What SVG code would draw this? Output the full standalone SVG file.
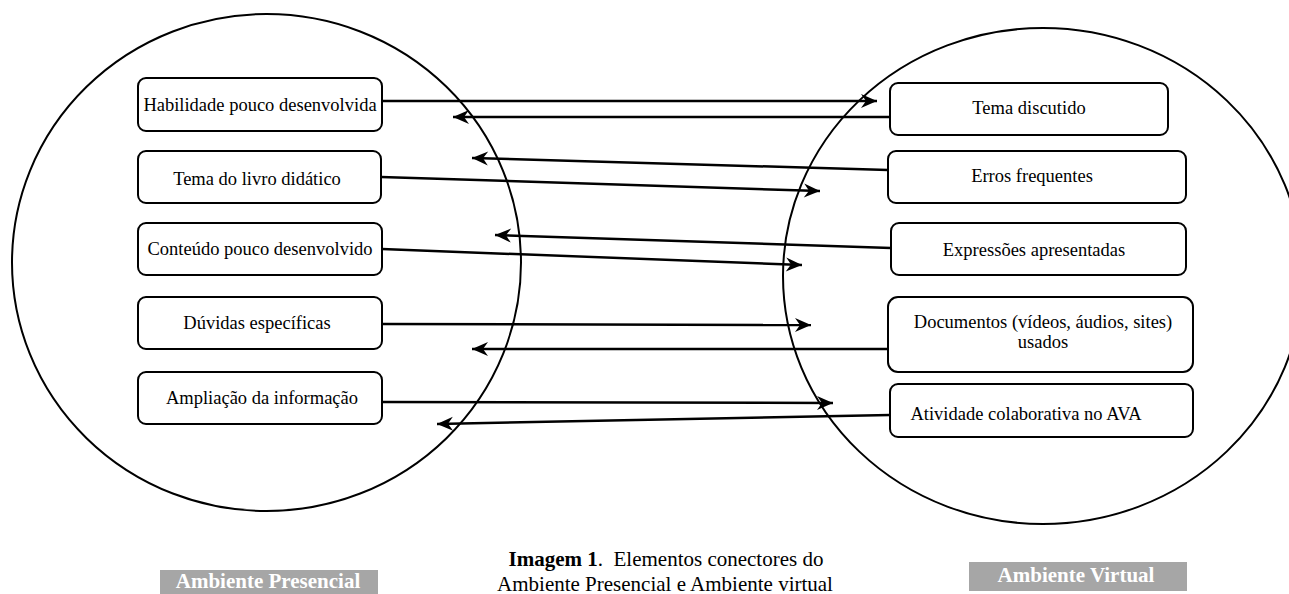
<svg xmlns="http://www.w3.org/2000/svg" width="1289" height="594" viewBox="0 0 1289 594">
<style>
.ell{fill:none;stroke:#000;stroke-width:2}
.box{fill:#fff;stroke:#000;stroke-width:2}
.t{font-family:"Liberation Serif","Times New Roman",serif;font-size:18.5px;fill:#000;text-anchor:middle}
.conn line{stroke:#000;stroke-width:2.5;marker-end:url(#ah)}
.tag{fill:#a6a6a6}
.tagt{font-family:"Liberation Serif","Times New Roman",serif;font-size:21px;font-weight:bold;fill:#fff;text-anchor:middle}
.cap{font-family:"Liberation Serif","Times New Roman",serif;font-size:21px;fill:#000;text-anchor:middle}
</style>
<defs>
<marker id="ah" markerUnits="userSpaceOnUse" markerWidth="20" markerHeight="16" viewBox="-17 -8 18 16" refX="0" refY="0" orient="auto">
<path d="M-16,-7 L0,0 L-16,7 L-11,0 Z" fill="#000"/>
</marker>
</defs>
<rect width="1289" height="594" fill="#fff"/>
<g id="ambiente-presencial">
<ellipse class="ell" cx="266.5" cy="262.5" rx="254.5" ry="248.5"/>
</g>
<g id="ambiente-virtual">
<ellipse class="ell" cx="1043" cy="276" rx="260" ry="248"/>
</g>
<g id="n-habilidade"><rect class="box" x="138" y="78" width="244" height="53" rx="8"/><text class="t" x="260" y="111">Habilidade pouco desenvolvida</text></g>
<g id="n-tema-livro"><rect class="box" x="138" y="151" width="243" height="52" rx="8"/><text class="t" x="257" y="185">Tema do livro didático</text></g>
<g id="n-conteudo"><rect class="box" x="138" y="223" width="244" height="52" rx="8"/><text class="t" x="260" y="255">Conteúdo pouco desenvolvido</text></g>
<g id="n-duvidas"><rect class="box" x="138" y="297" width="244" height="52" rx="8"/><text class="t" x="257" y="329">Dúvidas específicas</text></g>
<g id="n-ampliacao"><rect class="box" x="138" y="372" width="244" height="52" rx="8"/><text class="t" x="262" y="404">Ampliação da informação</text></g>
<g id="n-tema-discutido"><rect class="box" x="890" y="83" width="278" height="52" rx="8"/><text class="t" x="1029" y="114">Tema discutido</text></g>
<g id="n-erros"><rect class="box" x="888" y="151" width="298" height="52" rx="8"/><text class="t" x="1032" y="182">Erros frequentes</text></g>
<g id="n-expressoes"><rect class="box" x="891" y="223" width="295" height="52" rx="8"/><text class="t" x="1034" y="256">Expressões apresentadas</text></g>
<g id="n-documentos"><rect class="box" x="888" y="297" width="305" height="75" rx="10"/><text class="t" x="1043" y="328">Documentos (vídeos, áudios, sites)</text><text class="t" x="1043" y="348">usados</text></g>
<g id="n-atividade"><rect class="box" x="890" y="384" width="303" height="53" rx="8"/><text class="t" x="1026" y="420">Atividade colaborativa no AVA</text></g>
<g id="connectors" class="conn">
<line x1="382" y1="101" x2="877" y2="101"/>
<line x1="890" y1="117" x2="453" y2="117"/>
<line x1="888" y1="170" x2="472" y2="158"/>
<line x1="381" y1="177" x2="820" y2="191"/>
<line x1="891" y1="248" x2="495" y2="235"/>
<line x1="382" y1="249" x2="802" y2="265"/>
<line x1="382" y1="324" x2="811" y2="325"/>
<line x1="888" y1="349" x2="472" y2="349"/>
<line x1="382" y1="402" x2="833" y2="403"/>
<line x1="890" y1="415" x2="437" y2="424"/>
</g>
<g id="label-presencial"><rect class="tag" x="160" y="570" width="218" height="24"/><text class="tagt" x="268" y="588">Ambiente Presencial</text></g>
<g id="label-virtual"><rect class="tag" x="969" y="562" width="218" height="29"/><text class="tagt" x="1076" y="582">Ambiente Virtual</text></g>
<g id="caption">
<text class="cap" x="666" y="566"><tspan font-weight="bold">Imagem 1</tspan>.&#160; Elementos conectores do</text>
<text class="cap" x="665" y="591">Ambiente Presencial e Ambiente virtual</text>
</g>
</svg>
